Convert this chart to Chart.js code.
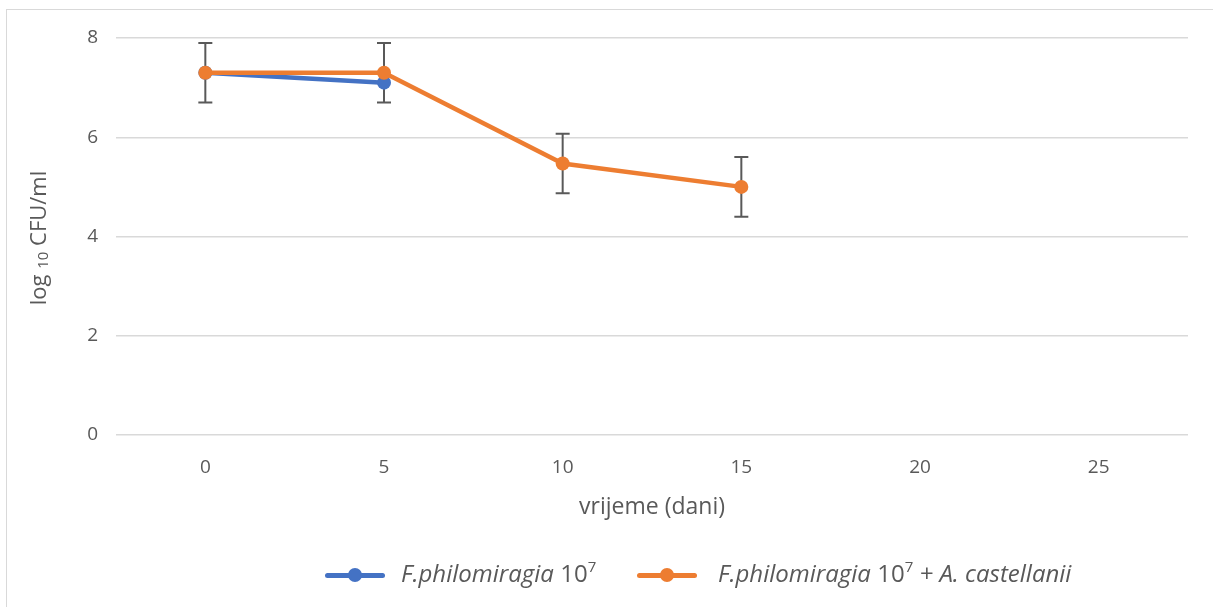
<!DOCTYPE html>
<html>
<head>
<meta charset="utf-8">
<script src="https://cdn.jsdelivr.net/npm/chart.js@4"></script>
<style>
  body { margin: 0; background: #fff; }
  #okvir { position: absolute; left: 6px; top: 9px; width: 1300px; height: 700px;
           border-left: 1px solid #d9d9d9; border-top: 1px solid #d9d9d9; }
  #wrap { position: relative; width: 1213px; height: 607px; overflow: hidden; }
  #naslov_y { position: absolute; left: 37px; top: 238px; transform: translate(-50%, -50%) rotate(-90deg);
              font-family: 'Open Sans', sans-serif; font-size: 22px; color: #595959; white-space: nowrap; }
  #naslov_y sub { font-size: 15px; vertical-align: -2px; }
  #legenda { position: absolute; top: 552px; left: 0; width: 1213px; height: 40px;
             font-family: 'Open Sans', sans-serif; font-size: 24px; color: #595959; }
  .stavka { position: absolute; top: 0; height: 40px; display: flex; align-items: center; white-space: nowrap; }
  .uzorak { position: relative; width: 60px; height: 40px; }
  .uzorak .crta { position: absolute; left: 0; top: 21px; width: 60px; height: 5px; border-radius: 3px; }
  .uzorak .tocka { position: absolute; left: 23px; top: 16px; width: 14px; height: 14px; border-radius: 50%; }
  .stavka sup { font-size: 15px; vertical-align: 10px; }
</style>
</head>
<body>
<div id="wrap">
  <div id="okvir"></div>
  <canvas id="grafico_geral" width="1213" height="607"></canvas>
  <div id="naslov_y">log <sub>10</sub> CFU/ml</div>
  <div id="legenda"></div>
</div>
<script>
const dani = ['0', '5', '10', '15', '20', '25'];
const fphilo = [7.3, 7.1, null, null, null, null];
const fphiloAcast = [7.3, 7.3, 5.47, 5.0, null, null];
const greskaAcast = [0.6, 0.6, 0.6, 0.6, null, null];

const plava = '#4472C4';
const narancasta = '#ED7D31';
const siva = '#595959';

// error bars drawn through the chart's own scales
const trakeGreske = {
    id: 'trakeGreske',
    beforeDatasetsDraw(chart) {
        const ctx = chart.ctx;
        const x = chart.scales.x;
        const y = chart.scales.y;
        ctx.save();
        ctx.strokeStyle = siva;
        ctx.lineWidth = 2;
        fphiloAcast.forEach((v, i) => {
            if (v === null || greskaAcast[i] === null) return;
            const px = x.getPixelForValue(i);
            const gore = y.getPixelForValue(v + greskaAcast[i]);
            const dolje = y.getPixelForValue(v - greskaAcast[i]);
            ctx.beginPath();
            ctx.moveTo(px, gore); ctx.lineTo(px, dolje);
            ctx.moveTo(px - 7, gore); ctx.lineTo(px + 7, gore);
            ctx.moveTo(px - 7, dolje); ctx.lineTo(px + 7, dolje);
            ctx.stroke();
        });
        ctx.restore();
    }
};

const contexto = document.getElementById('grafico_geral').getContext('2d');

const grafico = new Chart(contexto, {
    type: 'line',
    data: {
        labels: dani,
        datasets: [{
            label: 'F.philomiragia 10^7',
            data: fphilo,
            borderColor: plava,
            backgroundColor: plava,
            borderWidth: 4.5,
            pointRadius: 7,
            pointBorderWidth: 0,
            pointBackgroundColor: plava,
            tension: 0,
            order: 1
        }, {
            label: 'F.philomiragia 10^7 + A. castellanii',
            data: fphiloAcast,
            borderColor: narancasta,
            backgroundColor: narancasta,
            borderWidth: 4.5,
            pointRadius: 7,
            pointBorderWidth: 0,
            pointBackgroundColor: narancasta,
            tension: 0,
            order: 0
        }]
    },
    options: {
        responsive: false,
        animation: false,
        layout: { padding: { top: 38, right: 25, left: 0, bottom: 0 } },
        scales: {
            y: {
                min: 0,
                max: 8,
                ticks: { stepSize: 2, color: siva, padding: 18, font: { family: 'Open Sans', size: 19 } },
                grid: { color: '#d9d9d9', lineWidth: 1.5, drawTicks: false },
                border: { display: false },
                afterFit(scale) { scale.width = 116; }
            },
            x: {
                offset: true,
                ticks: { color: siva, padding: 21, font: { family: 'Open Sans', size: 19 } },
                grid: { display: false, drawTicks: false, offset: true },
                border: { display: false },
                title: {
                    display: true,
                    text: 'vrijeme (dani)',
                    color: siva,
                    font: { family: 'Open Sans', size: 23 },
                    padding: { top: 0, bottom: 86 }
                },
                afterFit(scale) { scale.height = 172; }
            }
        },
        plugins: {
            legend: { display: false },
            tooltip: { enabled: false }
        }
    },
    plugins: [trakeGreske]
});

// HTML legend with italic names and superscripts
function napraviLegendu() {
    const legenda = document.getElementById('legenda');
    const stavke = [
        { boja: plava, lijevo: 325, razmak: 16, html: '<i>F.philomiragia</i>&nbsp;10<sup>7</sup>' },
        { boja: narancasta, lijevo: 637, razmak: 21, html: '<i>F.philomiragia</i>&nbsp;10<sup>7</sup><i>&nbsp;+&nbsp;A. castellanii</i>' }
    ];
    stavke.forEach(s => {
        const div = document.createElement('div');
        div.className = 'stavka';
        div.style.left = s.lijevo + 'px';
        div.innerHTML = '<div class="uzorak" style="margin-right:' + s.razmak + 'px"><div class="crta" style="background:' + s.boja +
            '"></div><div class="tocka" style="background:' + s.boja + '"></div></div><span>' + s.html + '</span>';
        legenda.appendChild(div);
    });
}
napraviLegendu();
</script>
</body>
</html>
